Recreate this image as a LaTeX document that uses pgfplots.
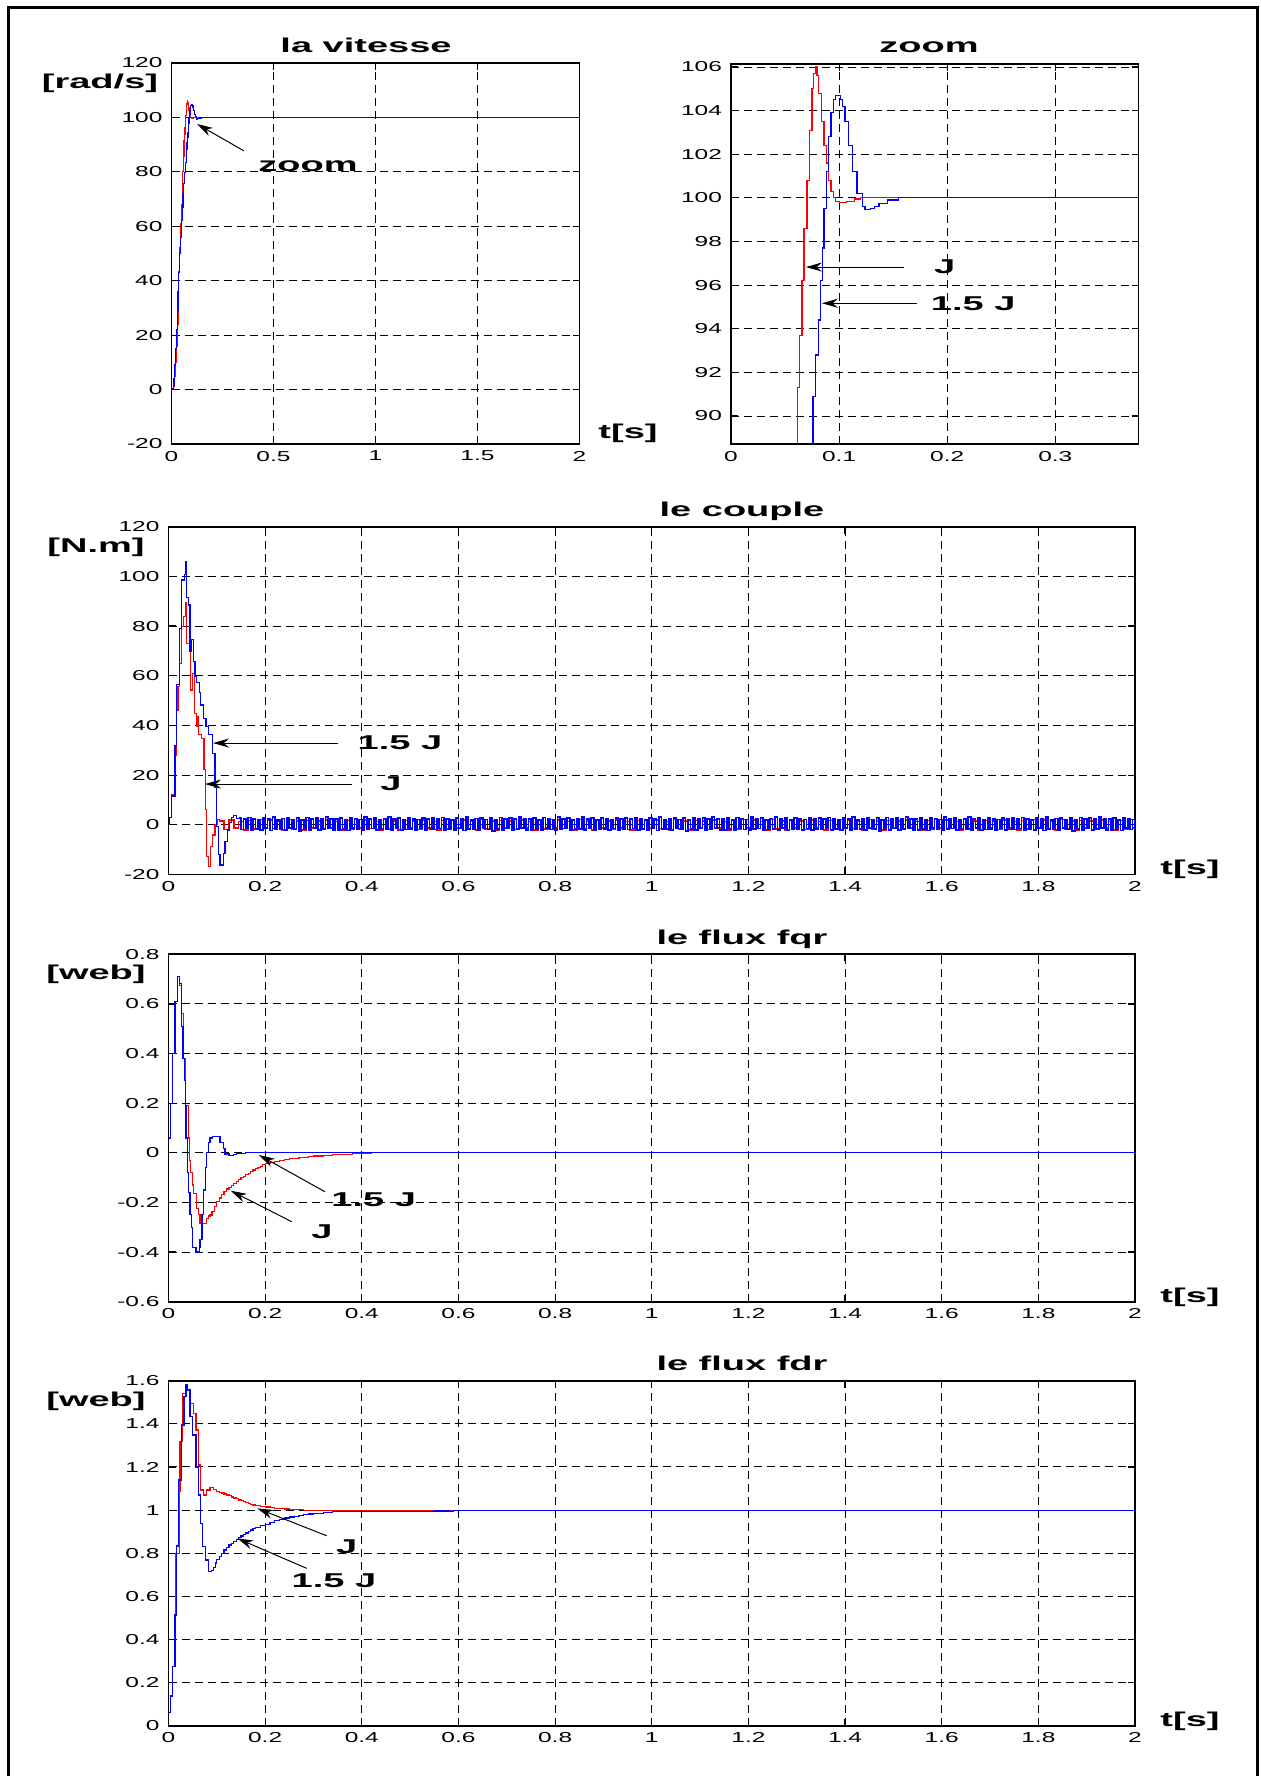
\documentclass[border=0pt]{standalone}
\usepackage{fontspec}
\setmainfont{Liberation Sans}[FakeStretch=1.9]
\newfontfamily\tickfont{Liberation Sans}[FakeStretch=1.7]
\usepackage{pgfplots}
\pgfplotsset{compat=1.18}
\usepackage{pgfplotstable}
\usetikzlibrary{arrows.meta}
\definecolor{mred}{RGB}{255,0,0}
\definecolor{mblue}{RGB}{0,0,255}
\tikzset{
  lab/.style={font=\fontsize{10}{12}\selectfont\bfseries, inner sep=0pt},
  arr/.style={-{Stealth[length=8pt,width=4.5pt]}, line width=0.5pt, black},
}
\pgfplotsset{
  mystyle/.style={
    scale only axis,
    anchor=south west,
    axis line style={line width=0.9pt},
    grid=major,
    major grid style={black, line width=0.5pt, dash pattern=on 4pt off 2.5pt},
    tick align=inside,
    major tick length=3.5pt,
    tick style={black, line width=0.6pt},
    /pgf/number format/assume math mode=true,
    tick label style={font=\tickfont\fontsize{7.2}{9}\selectfont},
    xticklabel style={/pgf/number format/fixed},
    yticklabel style={/pgf/number format/fixed, xshift=-1pt},
  }
}
\pgfplotstableread{
t v
0 0
0.004 0.3
0.008 1
0.012 2.4
0.016 5
0.020 10
0.024 16
0.028 24
0.032 34
0.036 43.5
0.040 52
0.044 61
0.048 68
0.052 75
0.055 80
0.058 85.5
0.0616 91.3
0.0634 93.7
0.0657 96.2
0.0675 98.6
0.0703 100.8
0.0726 103.1
0.0750 105.0
0.0765 105.7
0.0780 106.0
0.0795 105.6
0.0810 104.8
0.0835 103.5
0.0860 102.4
0.0880 101.6
0.0905 100.8
0.0925 100.3
0.0950 100.0
0.0970 99.85
0.1000 99.8
0.1070 99.85
0.1140 99.95
0.1200 100
2 100
}\spr
\pgfplotstableread{
t v
0 0
0.004 0.5
0.008 1.5
0.012 4
0.016 9
0.020 15
0.024 22
0.028 29
0.032 36
0.036 43
0.040 50
0.044 56
0.048 62
0.052 67
0.056 71.5
0.060 75.6
0.064 79.8
0.068 83.5
0.072 86.6
0.0740 88.3
0.0758 90.9
0.0780 92.8
0.0806 94.4
0.0830 96.2
0.0846 97.7
0.0860 99.5
0.0886 101.2
0.0905 102.8
0.0925 103.9
0.0950 104.5
0.0970 104.7
0.1015 104.5
0.1030 104.2
0.1055 103.5
0.1090 102.4
0.1125 101.2
0.1165 100.2
0.1215 99.6
0.1240 99.45
0.1290 99.5
0.1330 99.6
0.1370 99.75
0.1450 99.9
0.1550 100
2 100
}\spb
\begin{document}
\begin{tikzpicture}
% ---------------- la vitesse ----------------
\begin{axis}[mystyle, at={(85.75pt,666pt)}, width=204pt, height=190.5pt,
  xmin=0, xmax=2, ymin=-20, ymax=120,
  xtick={0,0.5,1,1.5,2}, ytick={-20,0,20,40,60,80,100,120}]
\addplot[const plot, mred, line width=0.6pt] table {\spr};
\addplot[const plot, mblue, line width=0.6pt] table {\spb};
\draw[arr] (axis cs:0.355,87.7) -- (axis cs:0.125,97.6);
\node[lab] at (axis cs:0.669,82.2) {zoom};
\end{axis}
% ---------------- zoom ----------------
\begin{axis}[mystyle, at={(365.5pt,666pt)}, width=203.75pt, height=190pt,
  xmin=0, xmax=0.377, ymin=88.72, ymax=106.14,
  xtick={0,0.1,0.2,0.3}, ytick={90,92,94,96,98,100,102,104,106}]
\addplot[const plot, mred, line width=0.6pt] table {\spr};
\addplot[const plot, mblue, line width=0.6pt] table {\spb};
\draw[arr] (axis cs:0.1604,96.83) -- (axis cs:0.0693,96.83);
\node[lab] at (axis cs:0.1978,96.83) {J};
\draw[arr] (axis cs:0.1719,95.17) -- (axis cs:0.0841,95.17);
\node[lab] at (axis cs:0.2241,95.17) {1.5 J};
\end{axis}
% ---------------- le couple ----------------
\begin{axis}[mystyle, at={(84.25pt,450.75pt)}, width=483.25pt, height=173.9pt,
  xmin=0, xmax=2, ymin=-20, ymax=120,
  xtick={0,0.2,0.4,0.6,0.8,1,1.2,1.4,1.6,1.8,2}, ytick={-20,0,20,40,60,80,100,120}]
\addplot[const plot, mred, line width=0.6pt] coordinates {
(0,0.5)(0.0017,3)(0.0066,12)(0.0134,28)(0.0169,46)(0.0197,55.6)(0.0224,65)(0.0272,79.7)(0.0314,83.8)(0.0348,89.4)(0.0376,73.1)(0.0431,69.7)(0.0459,54.3)(0.0500,61)(0.0535,44.9)(0.0583,39.5)(0.0610,43.5)(0.0624,36.2)(0.0686,34.8)(0.0734,22.1)(0.0762,6)(0.0790,-12.8)(0.0824,-16.9)(0.0873,-8.8)(0.0914,-4.1)(0.0962,0)(0.1010,2)(0.105,1.5)
};
\addplot[const plot, mred, line width=0.8pt] coordinates {
(0.105,1.5)(0.115,-1.9)(0.125,2.0)(0.135,-1.4)(0.145,1.3)(0.155,-2.1)(0.165,1.8)(0.175,-1.6)(0.185,2.2)(0.195,-1.3)
(0.205,1.9)(0.215,-1.5)(0.225,1.4)(0.235,-2.0)(0.245,2.1)(0.255,-1.7)(0.265,1.5)(0.275,-2.2)(0.285,1.7)(0.295,-1.2)
(0.305,1.5)(0.315,-1.9)(0.325,2.0)(0.335,-1.4)(0.345,1.3)(0.355,-2.1)(0.365,1.8)(0.375,-1.6)(0.385,2.2)(0.395,-1.3)
(0.405,1.9)(0.415,-1.5)(0.425,1.4)(0.435,-2.0)(0.445,2.1)(0.455,-1.7)(0.465,1.5)(0.475,-2.2)(0.485,1.7)(0.495,-1.2)
(0.505,1.5)(0.515,-1.9)(0.525,2.0)(0.535,-1.4)(0.545,1.3)(0.555,-2.1)(0.565,1.8)(0.575,-1.6)(0.585,2.2)(0.595,-1.3)
(0.605,1.9)(0.615,-1.5)(0.625,1.4)(0.635,-2.0)(0.645,2.1)(0.655,-1.7)(0.665,1.5)(0.675,-2.2)(0.685,1.7)(0.695,-1.2)
(0.705,1.5)(0.715,-1.9)(0.725,2.0)(0.735,-1.4)(0.745,1.3)(0.755,-2.1)(0.765,1.8)(0.775,-1.6)(0.785,2.2)(0.795,-1.3)
(0.805,1.9)(0.815,-1.5)(0.825,1.4)(0.835,-2.0)(0.845,2.1)(0.855,-1.7)(0.865,1.5)(0.875,-2.2)(0.885,1.7)(0.895,-1.2)
(0.905,1.5)(0.915,-1.9)(0.925,2.0)(0.935,-1.4)(0.945,1.3)(0.955,-2.1)(0.965,1.8)(0.975,-1.6)(0.985,2.2)(0.995,-1.3)
(1.005,1.9)(1.015,-1.5)(1.025,1.4)(1.035,-2.0)(1.045,2.1)(1.055,-1.7)(1.065,1.5)(1.075,-2.2)(1.085,1.7)(1.095,-1.2)
(1.105,1.5)(1.115,-1.9)(1.125,2.0)(1.135,-1.4)(1.145,1.3)(1.155,-2.1)(1.165,1.8)(1.175,-1.6)(1.185,2.2)(1.195,-1.3)
(1.205,1.9)(1.215,-1.5)(1.225,1.4)(1.235,-2.0)(1.245,2.1)(1.255,-1.7)(1.265,1.5)(1.275,-2.2)(1.285,1.7)(1.295,-1.2)
(1.305,1.5)(1.315,-1.9)(1.325,2.0)(1.335,-1.4)(1.345,1.3)(1.355,-2.1)(1.365,1.8)(1.375,-1.6)(1.385,2.2)(1.395,-1.3)
(1.405,1.9)(1.415,-1.5)(1.425,1.4)(1.435,-2.0)(1.445,2.1)(1.455,-1.7)(1.465,1.5)(1.475,-2.2)(1.485,1.7)(1.495,-1.2)
(1.505,1.5)(1.515,-1.9)(1.525,2.0)(1.535,-1.4)(1.545,1.3)(1.555,-2.1)(1.565,1.8)(1.575,-1.6)(1.585,2.2)(1.595,-1.3)
(1.605,1.9)(1.615,-1.5)(1.625,1.4)(1.635,-2.0)(1.645,2.1)(1.655,-1.7)(1.665,1.5)(1.675,-2.2)(1.685,1.7)(1.695,-1.2)
(1.705,1.5)(1.715,-1.9)(1.725,2.0)(1.735,-1.4)(1.745,1.3)(1.755,-2.1)(1.765,1.8)(1.775,-1.6)(1.785,2.2)(1.795,-1.3)
(1.805,1.9)(1.815,-1.5)(1.825,1.4)(1.835,-2.0)(1.845,2.1)(1.855,-1.7)(1.865,1.5)(1.875,-2.2)(1.885,1.7)(1.895,-1.2)
(1.905,1.5)(1.915,-1.9)(1.925,2.0)(1.935,-1.4)(1.945,1.3)(1.955,-2.1)(1.965,1.8)(1.975,-1.6)(1.985,2.2)(1.995,-1.3)(2.000,0.5)
};
\addplot[const plot, mblue, line width=0.6pt] coordinates {
(0,0.5)(0.0017,3)(0.0066,11.6)(0.0134,32)(0.0169,56.6)(0.0224,79)(0.0272,98.5)(0.0328,100.6)(0.0355,105.8)(0.0376,91.5)(0.0410,88.5)(0.0445,69.7)(0.0480,74.7)(0.0514,65.7)(0.0548,59.6)(0.0583,57.2)(0.0638,53.2)(0.0666,48.2)(0.0721,42.9)(0.0776,39.5)(0.0824,36.2)(0.0914,28.8)(0.0962,15.1)(0.0997,-0.75)(0.1031,-12.1)(0.1066,-16.2)(0.1134,-11.5)(0.1169,-6.8)(0.1217,-2.1)(0.1259,1)(0.1307,2.8)(0.1350,3.6)(0.1410,2.5)(0.145,2.6)
};
\addplot[const plot, mblue, line width=0.9pt] coordinates {
(0.145,2.6)(0.150,-1.9)(0.155,2.2)(0.160,-1.5)(0.165,2.9)(0.170,-2.2)(0.175,2.4)(0.180,-1.7)(0.185,1.8)(0.190,-2.0)(0.195,2.7)(0.200,-1.3)(0.205,2.3)(0.210,-2.3)(0.215,3.1)(0.220,-1.8)(0.225,2.0)(0.230,-1.6)(0.235,2.5)(0.240,-2.1)
(0.245,2.8)(0.250,-1.4)(0.255,2.1)(0.260,-1.9)(0.265,2.6)(0.270,-2.4)(0.275,1.9)(0.280,-1.6)(0.285,2.9)(0.290,-2.0)(0.295,2.3)(0.300,-1.5)(0.305,2.7)(0.310,-2.2)(0.315,2.2)(0.320,-1.8)(0.325,3.0)(0.330,-1.3)(0.335,2.4)(0.340,-2.1)
(0.345,2.3)(0.350,-2.0)(0.355,2.7)(0.360,-1.6)(0.365,2.0)(0.370,-2.3)(0.375,2.9)(0.380,-1.4)(0.385,2.5)(0.390,-1.9)(0.395,2.1)(0.400,-2.2)(0.405,3.1)(0.410,-1.7)(0.415,2.4)(0.420,-1.5)(0.425,2.6)(0.430,-2.0)(0.435,1.9)(0.440,-1.8)
(0.445,2.5)(0.450,-1.7)(0.455,3.0)(0.460,-2.1)(0.465,2.2)(0.470,-1.4)(0.475,2.6)(0.480,-2.3)(0.485,2.0)(0.490,-1.9)(0.495,2.8)(0.500,-1.6)(0.505,2.4)(0.510,-2.0)(0.515,2.1)(0.520,-1.5)(0.525,2.7)(0.530,-2.2)(0.535,2.3)(0.540,-1.9)
(0.545,2.6)(0.550,-1.9)(0.555,2.2)(0.560,-1.5)(0.565,2.9)(0.570,-2.2)(0.575,2.4)(0.580,-1.7)(0.585,1.8)(0.590,-2.0)(0.595,2.7)(0.600,-1.3)(0.605,2.3)(0.610,-2.3)(0.615,3.1)(0.620,-1.8)(0.625,2.0)(0.630,-1.6)(0.635,2.5)(0.640,-2.1)
(0.645,2.8)(0.650,-1.4)(0.655,2.1)(0.660,-1.9)(0.665,2.6)(0.670,-2.4)(0.675,1.9)(0.680,-1.6)(0.685,2.9)(0.690,-2.0)(0.695,2.3)(0.700,-1.5)(0.705,2.7)(0.710,-2.2)(0.715,2.2)(0.720,-1.8)(0.725,3.0)(0.730,-1.3)(0.735,2.4)(0.740,-2.1)
(0.745,2.3)(0.750,-2.0)(0.755,2.7)(0.760,-1.6)(0.765,2.0)(0.770,-2.3)(0.775,2.9)(0.780,-1.4)(0.785,2.5)(0.790,-1.9)(0.795,2.1)(0.800,-2.2)(0.805,3.1)(0.810,-1.7)(0.815,2.4)(0.820,-1.5)(0.825,2.6)(0.830,-2.0)(0.835,1.9)(0.840,-1.8)
(0.845,2.5)(0.850,-1.7)(0.855,3.0)(0.860,-2.1)(0.865,2.2)(0.870,-1.4)(0.875,2.6)(0.880,-2.3)(0.885,2.0)(0.890,-1.9)(0.895,2.8)(0.900,-1.6)(0.905,2.4)(0.910,-2.0)(0.915,2.1)(0.920,-1.5)(0.925,2.7)(0.930,-2.2)(0.935,2.3)(0.940,-1.9)
(0.945,2.6)(0.950,-1.9)(0.955,2.2)(0.960,-1.5)(0.965,2.9)(0.970,-2.2)(0.975,2.4)(0.980,-1.7)(0.985,1.8)(0.990,-2.0)(0.995,2.7)(1.000,-1.3)(1.005,2.3)(1.010,-2.3)(1.015,3.1)(1.020,-1.8)(1.025,2.0)(1.030,-1.6)(1.035,2.5)(1.040,-2.1)
(1.045,2.8)(1.050,-1.4)(1.055,2.1)(1.060,-1.9)(1.065,2.6)(1.070,-2.4)(1.075,1.9)(1.080,-1.6)(1.085,2.9)(1.090,-2.0)(1.095,2.3)(1.100,-1.5)(1.105,2.7)(1.110,-2.2)(1.115,2.2)(1.120,-1.8)(1.125,3.0)(1.130,-1.3)(1.135,2.4)(1.140,-2.1)
(1.145,2.3)(1.150,-2.0)(1.155,2.7)(1.160,-1.6)(1.165,2.0)(1.170,-2.3)(1.175,2.9)(1.180,-1.4)(1.185,2.5)(1.190,-1.9)(1.195,2.1)(1.200,-2.2)(1.205,3.1)(1.210,-1.7)(1.215,2.4)(1.220,-1.5)(1.225,2.6)(1.230,-2.0)(1.235,1.9)(1.240,-1.8)
(1.245,2.5)(1.250,-1.7)(1.255,3.0)(1.260,-2.1)(1.265,2.2)(1.270,-1.4)(1.275,2.6)(1.280,-2.3)(1.285,2.0)(1.290,-1.9)(1.295,2.8)(1.300,-1.6)(1.305,2.4)(1.310,-2.0)(1.315,2.1)(1.320,-1.5)(1.325,2.7)(1.330,-2.2)(1.335,2.3)(1.340,-1.9)
(1.345,2.6)(1.350,-1.9)(1.355,2.2)(1.360,-1.5)(1.365,2.9)(1.370,-2.2)(1.375,2.4)(1.380,-1.7)(1.385,1.8)(1.390,-2.0)(1.395,2.7)(1.400,-1.3)(1.405,2.3)(1.410,-2.3)(1.415,3.1)(1.420,-1.8)(1.425,2.0)(1.430,-1.6)(1.435,2.5)(1.440,-2.1)
(1.445,2.8)(1.450,-1.4)(1.455,2.1)(1.460,-1.9)(1.465,2.6)(1.470,-2.4)(1.475,1.9)(1.480,-1.6)(1.485,2.9)(1.490,-2.0)(1.495,2.3)(1.500,-1.5)(1.505,2.7)(1.510,-2.2)(1.515,2.2)(1.520,-1.8)(1.525,3.0)(1.530,-1.3)(1.535,2.4)(1.540,-2.1)
(1.545,2.3)(1.550,-2.0)(1.555,2.7)(1.560,-1.6)(1.565,2.0)(1.570,-2.3)(1.575,2.9)(1.580,-1.4)(1.585,2.5)(1.590,-1.9)(1.595,2.1)(1.600,-2.2)(1.605,3.1)(1.610,-1.7)(1.615,2.4)(1.620,-1.5)(1.625,2.6)(1.630,-2.0)(1.635,1.9)(1.640,-1.8)
(1.645,2.5)(1.650,-1.7)(1.655,3.0)(1.660,-2.1)(1.665,2.2)(1.670,-1.4)(1.675,2.6)(1.680,-2.3)(1.685,2.0)(1.690,-1.9)(1.695,2.8)(1.700,-1.6)(1.705,2.4)(1.710,-2.0)(1.715,2.1)(1.720,-1.5)(1.725,2.7)(1.730,-2.2)(1.735,2.3)(1.740,-1.9)
(1.745,2.6)(1.750,-1.9)(1.755,2.2)(1.760,-1.5)(1.765,2.9)(1.770,-2.2)(1.775,2.4)(1.780,-1.7)(1.785,1.8)(1.790,-2.0)(1.795,2.7)(1.800,-1.3)(1.805,2.3)(1.810,-2.3)(1.815,3.1)(1.820,-1.8)(1.825,2.0)(1.830,-1.6)(1.835,2.5)(1.840,-2.1)
(1.845,2.8)(1.850,-1.4)(1.855,2.1)(1.860,-1.9)(1.865,2.6)(1.870,-2.4)(1.875,1.9)(1.880,-1.6)(1.885,2.9)(1.890,-2.0)(1.895,2.3)(1.900,-1.5)(1.905,2.7)(1.910,-2.2)(1.915,2.2)(1.920,-1.8)(1.925,3.0)(1.930,-1.3)(1.935,2.4)(1.940,-2.1)
(1.945,2.3)(1.950,-2.0)(1.955,2.7)(1.960,-1.6)(1.965,2.0)(1.970,-2.3)(1.975,2.9)(1.980,-1.4)(1.985,2.5)(1.990,-1.9)(1.995,2.1)(2.000,-2.2)
};
\draw[arr] (axis cs:0.3507,32.9) -- (axis cs:0.0921,32.9);
\node[lab] at (axis cs:0.479,32.9) {1.5 J};
\draw[arr] (axis cs:0.380,16.4) -- (axis cs:0.0755,16.4);
\node[lab] at (axis cs:0.4604,16.4) {J};
\end{axis}
% ---------------- le flux fqr ----------------
\begin{axis}[mystyle, at={(84.25pt,237.15pt)}, width=483.25pt, height=173.7pt,
  xmin=0, xmax=2, ymin=-0.6, ymax=0.8,
  xtick={0,0.2,0.4,0.6,0.8,1,1.2,1.4,1.6,1.8,2}, ytick={-0.6,-0.4,-0.2,0,0.2,0.4,0.6,0.8}]
\addplot[const plot, mred, line width=0.6pt] coordinates {
(0,0.06)(0.0045,0.2)(0.0086,0.4)(0.0134,0.61)(0.0183,0.712)(0.0224,0.675)(0.0272,0.56)(0.0307,0.38)(0.0355,0.19)(0.0410,0.06)(0.0431,-0.03)(0.0459,-0.08)(0.0490,-0.13)(0.0514,-0.163)(0.0583,-0.224)(0.0617,-0.25)(0.0652,-0.284)(0.0755,-0.284)(0.0790,-0.265)(0.0830,-0.255)(0.0859,-0.251)(0.090,-0.235)(0.095,-0.215)(0.0997,-0.197)(0.105,-0.182)(0.110,-0.168)(0.115,-0.155)(0.120,-0.146)(0.125,-0.140)(0.130,-0.133)(0.135,-0.125)(0.140,-0.116)(0.145,-0.108)(0.150,-0.100)(0.155,-0.094)(0.160,-0.088)(0.165,-0.082)(0.170,-0.075)(0.175,-0.069)(0.180,-0.064)(0.185,-0.059)(0.190,-0.054)(0.195,-0.048)(0.200,-0.044)(0.21,-0.039)(0.22,-0.034)(0.23,-0.030)(0.24,-0.027)(0.25,-0.024)(0.26,-0.022)(0.27,-0.020)(0.28,-0.018)(0.29,-0.015)(0.30,-0.013)(0.32,-0.011)(0.34,-0.008)(0.36,-0.006)(0.38,-0.004)(0.40,-0.001)(0.42,0)(2,0)
};
\addplot[const plot, mblue, line width=0.6pt] coordinates {
(0,0.06)(0.0045,0.2)(0.0086,0.4)(0.0134,0.61)(0.0183,0.712)(0.0224,0.683)(0.0272,0.51)(0.0300,0.38)(0.0328,0.29)(0.0345,0.19)(0.0362,0.06)(0.0397,-0.08)(0.0420,-0.16)(0.0445,-0.25)(0.0475,-0.30)(0.0500,-0.38)(0.0569,-0.40)(0.0638,-0.38)(0.0652,-0.35)(0.0693,-0.25)(0.0721,-0.15)(0.0762,-0.06)(0.0790,0.0)(0.0824,0.04)(0.0859,0.06)(0.0914,0.065)(0.1066,0.04)(0.1134,0.018)(0.1169,-0.005)(0.1250,-0.012)(0.1341,-0.008)(0.1410,-0.002)(0.16,0.002)(0.2,0.001)(2,0)
};
\draw[arr] (axis cs:0.3238,-0.157) -- (axis cs:0.1872,-0.0088);
\node[lab] at (axis cs:0.4246,-0.190) {1.5 J};
\draw[arr] (axis cs:0.2549,-0.2776) -- (axis cs:0.1287,-0.1527);
\node[lab] at (axis cs:0.3176,-0.318) {J};
\end{axis}
% ---------------- le flux fdr ----------------
\begin{axis}[mystyle, at={(84.25pt,25.1pt)}, width=483.25pt, height=172.55pt,
  xmin=0, xmax=2, ymin=0, ymax=1.6,
  xtick={0,0.2,0.4,0.6,0.8,1,1.2,1.4,1.6,1.8,2}, ytick={0,0.2,0.4,0.6,0.8,1,1.2,1.4,1.6}]
\addplot[const plot, mred, line width=0.6pt] coordinates {
(0,0.06)(0.0045,0.138)(0.0086,0.274)(0.0134,0.514)(0.0155,0.8)(0.0224,1.085)(0.0238,1.317)(0.0293,1.541)(0.0376,1.557)(0.0459,1.495)(0.0514,1.449)(0.0569,1.371)(0.0617,1.209)(0.0666,1.093)(0.0721,1.07)(0.0790,1.093)(0.0859,1.104)(0.0928,1.095)(0.100,1.088)(0.105,1.083)(0.110,1.079)(0.115,1.075)(0.1204,1.07)(0.125,1.066)(0.130,1.061)(0.135,1.056)(0.140,1.052)(0.145,1.047)(0.150,1.043)(0.155,1.039)(0.160,1.035)(0.165,1.031)(0.170,1.027)(0.175,1.024)(0.18,1.022)(0.19,1.017)(0.20,1.014)(0.21,1.011)(0.22,1.009)(0.23,1.007)(0.24,1.005)(0.25,1.003)(0.26,1.002)(0.28,1.0)(0.3272,0.998)(0.5,0.999)(2,1.0)
};
\addplot[const plot, mblue, line width=0.6pt] coordinates {
(0,0.06)(0.0045,0.138)(0.0086,0.274)(0.0134,0.514)(0.0169,0.834)(0.0215,1.14)(0.0272,1.395)(0.0321,1.526)(0.0362,1.58)(0.0397,1.557)(0.0445,1.433)(0.0500,1.348)(0.0569,1.2)(0.0624,1.07)(0.0666,0.939)(0.0707,0.83)(0.0762,0.769)(0.0824,0.715)(0.0893,0.72)(0.093,0.735)(0.097,0.755)(0.100,0.772)(0.105,0.785)(0.110,0.800)(0.115,0.815)(0.120,0.828)(0.125,0.838)(0.130,0.847)(0.135,0.856)(0.140,0.865)(0.145,0.873)(0.150,0.880)(0.155,0.887)(0.160,0.894)(0.165,0.900)(0.170,0.908)(0.175,0.914)(0.180,0.919)(0.19,0.927)(0.20,0.935)(0.21,0.942)(0.22,0.950)(0.23,0.957)(0.24,0.963)(0.25,0.968)(0.26,0.972)(0.27,0.976)(0.28,0.979)(0.29,0.982)(0.30,0.985)(0.32,0.989)(0.34,0.992)(0.36,0.993)(0.40,0.994)(0.45,0.995)(0.5,0.995)(0.55,0.996)(0.5824,0.995)(0.59,1.0)(2,1.0)
};
\draw[arr] (axis cs:0.3273,0.881) -- (axis cs:0.1837,1.008);
\node[lab] at (axis cs:0.3687,0.830) {J};
\draw[arr] (axis cs:0.2859,0.730) -- (axis cs:0.1423,0.869);
\node[lab] at (axis cs:0.3424,0.673) {1.5 J};
\end{axis}
% ---------------- titles and labels ----------------
\node[lab, anchor=base] at (183pt,861.5pt) {la vitesse};
\node[lab, anchor=base] at (464.5pt,861.5pt) {zoom};
\node[lab, anchor=base] at (371pt,629.65pt) {le couple};
\node[lab, anchor=base] at (371pt,415.85pt) {le flux fqr};
\node[lab, anchor=base] at (371pt,202.65pt) {le flux fdr};
\node[lab] at (50pt,846.5pt) {[rad/s]};
\node[lab] at (48pt,614.5pt) {[N.m]};
\node[lab] at (48pt,401pt) {[web]};
\node[lab] at (48pt,187.5pt) {[web]};
\node[lab] at (314pt,671.5pt) {t[s]};
\node[lab] at (595pt,453.5pt) {t[s]};
\node[lab] at (595pt,239.5pt) {t[s]};
\node[lab] at (595pt,27.5pt) {t[s]};
\draw[line width=1.5pt] (4pt,-5pt) -- (4pt,884pt) -- (628.5pt,884pt) -- (628.5pt,-5pt);
\pgfresetboundingbox
\path[use as bounding box] (0pt,0pt) rectangle (630.5pt,888pt);
\end{tikzpicture}
\end{document}
